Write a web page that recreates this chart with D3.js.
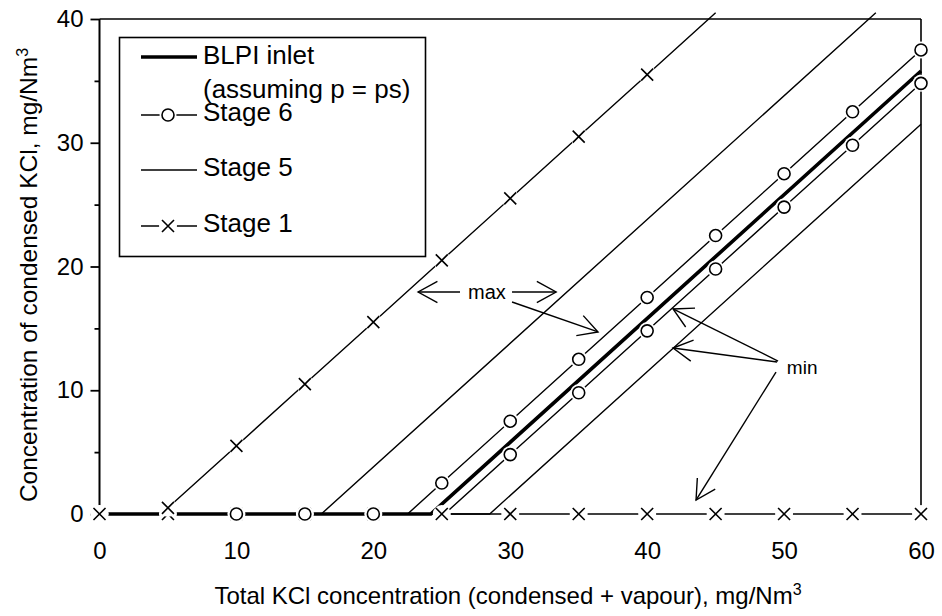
<!DOCTYPE html>
<html><head><meta charset="utf-8">
<script src="https://cdn.jsdelivr.net/npm/d3@7"></script>
<style>
html,body{margin:0;padding:0;background:#fff;}
text{font-family:"Liberation Sans",Arial,sans-serif;fill:#000;}
</style></head>
<body>
<svg id="chart" width="942" height="616"></svg>
<script>
// ---- data ----
const xTicks = [0, 10, 20, 30, 40, 50, 60];
const yTicks = [0, 10, 20, 30, 40];
const yMinorTicks = [5, 15, 25, 35];

const blpiX = [0, 24.2, 60];
const blpiY = [0, 0, 35.8];

const stage6MaxX = [10, 15, 20, 22.5, 25, 30, 35, 40, 45, 50, 55, 60];
const stage6MaxY = [0, 0, 0, 0, 2.5, 7.5, 12.5, 17.5, 22.5, 27.5, 32.5, 37.5];
const stage6MinX = [10, 15, 20, 25.2, 30, 35, 40, 45, 50, 55, 60];
const stage6MinY = [0, 0, 0, 0, 4.8, 9.8, 14.8, 19.8, 24.8, 29.8, 34.8];

const stage5MaxX = [0, 16.2, 56.7];
const stage5MaxY = [0, 0, 40.5];
const stage5MinX = [0, 28.5, 60];
const stage5MinY = [0, 0, 31.5];

const stage1MaxX = [0, 4.5, 5, 10, 15, 20, 25, 30, 35, 40, 45];
const stage1MaxY = [0, 0, 0.5, 5.5, 10.5, 15.5, 20.5, 25.5, 30.5, 35.5, 40.5];
const stage1MinX = [0, 5, 10, 15, 20, 25, 30, 35, 40, 45, 50, 55, 60];
const stage1MinY = [0, 0, 0, 0, 0, 0, 0, 0, 0, 0, 0, 0, 0];

const legendLabels = ["BLPI inlet", "(assuming p = ps)", "Stage 6", "Stage 5", "Stage 1"];

// annotations (data coordinates)
const maxLabel = {text: "max", x: 28.3, y: 17.94};
const maxArrows = [[26.33, 17.94, 23.27, 17.94], [30.13, 17.94, 33.35, 17.94], [30.13, 17.13, 36.41, 14.71]];
const minLabel = {text: "min", x: 51.32, y: 11.88};
const minArrows = [[49.56, 12.36, 41.89, 16.57], [49.49, 12.28, 41.89, 13.41], [49.41, 11.47, 43.57, 1.13]];

// ---- drawing ----
const svg = d3.select("#chart");
const x = d3.scaleLinear().domain([0, 60]).range([99.5, 921]);
const y = d3.scaleLinear().domain([0, 40]).range([514, 19]);

const zip = (xs, ys) => xs.map((v, i) => [v, ys[i]]);
const line = d3.line().x(d => x(d[0])).y(d => y(d[1]));

// frame
svg.append("line").attr("x1", x(0)).attr("x2", x(60)).attr("y1", y(40)).attr("y2", y(40))
  .attr("stroke", "#000").attr("stroke-width", 1.6);
svg.append("line").attr("x1", x(60)).attr("x2", x(60)).attr("y1", y(40)).attr("y2", y(0))
  .attr("stroke", "#000").attr("stroke-width", 1.6);

// y axis
const yAxis = d3.axisLeft(y).tickValues(yTicks).tickSize(9).tickPadding(7).tickFormat(d3.format("d"));
const gy = svg.append("g").attr("transform", `translate(${x(0)},0)`).call(yAxis);
gy.select(".domain").attr("stroke-width", 2).attr("d", `M0,${y(40)}V${y(0)}`);
gy.selectAll(".tick line").attr("stroke-width", 1.8);
gy.selectAll(".tick text").attr("font-size", 24).style("font-family", '"Liberation Sans",Arial,sans-serif');
const gyMinor = svg.append("g").attr("transform", `translate(${x(0)},0)`)
  .call(d3.axisLeft(y).tickValues(yMinorTicks).tickSize(5).tickFormat(""));
gyMinor.select(".domain").remove();
gyMinor.selectAll(".tick line").attr("stroke-width", 1.8);

// x axis labels (no line, no ticks)
const xAxis = d3.axisBottom(x).tickValues(xTicks).tickSize(0).tickPadding(28).tickFormat(d3.format("d"));
const gx = svg.append("g").attr("transform", `translate(0,${y(0)})`).call(xAxis);
gx.select(".domain").remove();
gx.selectAll(".tick text").attr("font-size", 24).style("font-family", '"Liberation Sans",Arial,sans-serif');

// axis titles
const xt = svg.append("text").attr("x", 508).attr("y", 604).attr("text-anchor", "middle").attr("font-size", 24);
xt.append("tspan").text("Total KCl concentration (condensed + vapour), mg/Nm");
xt.append("tspan").attr("dy", -9).attr("font-size", 16).text("3");
const yt = svg.append("text").attr("transform", "translate(37,275) rotate(-90)").attr("text-anchor", "middle").attr("font-size", 24.5);
yt.append("tspan").text("Concentration of condensed KCl, mg/Nm");
yt.append("tspan").attr("dy", -9).attr("font-size", 16).text("3");

// lines
const series = [
  {d: zip(stage5MaxX, stage5MaxY), w: 1.4},
  {d: zip(stage5MinX, stage5MinY), w: 1.4},
  {d: zip(stage1MinX, stage1MinY), w: 1.4},
  {d: zip(stage1MaxX, stage1MaxY), w: 1.4},
  {d: zip(stage6MinX, stage6MinY), w: 1.4},
  {d: zip(stage6MaxX, stage6MaxY), w: 1.4},
  {d: zip(blpiX, blpiY), w: 3.6},
];
series.forEach(s => {
  svg.append("path").attr("d", line(s.d)).attr("fill", "none").attr("stroke", "#000")
    .attr("stroke-width", s.w).attr("stroke-linejoin", "miter");
});

// markers
function drawX(g, cx, cy, bg) {
  if (bg) g.append("circle").attr("cx", cx).attr("cy", cy).attr("r", 9).attr("fill", "#fff");
  const h = 6;
  g.append("path").attr("d", `M${cx - h},${cy - h}L${cx + h},${cy + h}M${cx - h},${cy + h}L${cx + h},${cy - h}`)
    .attr("stroke", "#000").attr("stroke-width", 1.6).attr("fill", "none");
}
function drawO(g, cx, cy, bg) {
  if (bg) g.append("circle").attr("cx", cx).attr("cy", cy).attr("r", 8.5).attr("fill", "#fff");
  g.append("circle").attr("cx", cx).attr("cy", cy).attr("r", 6).attr("fill", "#fff")
    .attr("stroke", "#000").attr("stroke-width", 1.6);
}
const isMarked = d => d[0] % 5 === 0 && d[1] <= 40;
const mg = svg.append("g");
zip(stage1MinX, stage1MinY).filter(isMarked).forEach(d => drawX(mg, x(d[0]), y(d[1]), true));
zip(stage1MaxX, stage1MaxY).filter(isMarked).forEach(d => drawX(mg, x(d[0]), y(d[1]), true));
zip(stage6MinX, stage6MinY).filter(isMarked).forEach(d => drawO(mg, x(d[0]), y(d[1]), true));
zip(stage6MaxX, stage6MaxY).filter(isMarked).forEach(d => drawO(mg, x(d[0]), y(d[1]), true));

// legend
const lg = svg.append("g");
lg.append("rect").attr("x", 119.5).attr("y", 37.5).attr("width", 306).attr("height", 219)
  .attr("fill", "#fff").attr("stroke", "#000").attr("stroke-width", 1.6);
const lx1 = 141, lx2 = 197, lxt = 203;
lg.append("line").attr("x1", lx1).attr("x2", lx2).attr("y1", 57).attr("y2", 57).attr("stroke", "#000").attr("stroke-width", 3.6);
lg.append("line").attr("x1", lx1).attr("x2", lx2).attr("y1", 115).attr("y2", 115).attr("stroke", "#000").attr("stroke-width", 1.4);
drawO(lg, 168, 115, true);
lg.append("line").attr("x1", lx1).attr("x2", lx2).attr("y1", 170).attr("y2", 170).attr("stroke", "#000").attr("stroke-width", 1.4);
lg.append("line").attr("x1", lx1).attr("x2", lx2).attr("y1", 226).attr("y2", 226).attr("stroke", "#000").attr("stroke-width", 1.4);
drawX(lg, 168, 226, true);
const legendBaselines = [64, 98, 121, 176, 232];
legendLabels.forEach((t, i) => {
  lg.append("text").attr("x", lxt).attr("y", legendBaselines[i]).attr("font-size", 26).text(t);
});

// annotations
function arrow(g, a) {
  const [x1, y1, x2, y2] = [x(a[0]), y(a[1]), x(a[2]), y(a[3])];
  g.append("line").attr("x1", x1).attr("y1", y1).attr("x2", x2).attr("y2", y2)
    .attr("stroke", "#000").attr("stroke-width", 1.4);
  const ang = Math.atan2(y1 - y2, x1 - x2), L = 22, sp = 0.5;
  const p1 = [x2 + L * Math.cos(ang + sp), y2 + L * Math.sin(ang + sp)];
  const p2 = [x2 + L * Math.cos(ang - sp), y2 + L * Math.sin(ang - sp)];
  g.append("path").attr("d", `M${p1[0]},${p1[1]}L${x2},${y2}L${p2[0]},${p2[1]}`)
    .attr("fill", "none").attr("stroke", "#000").attr("stroke-width", 1.4);
}
const ag = svg.append("g");
maxArrows.forEach(a => arrow(ag, a));
minArrows.forEach(a => arrow(ag, a));
ag.append("text").attr("x", x(maxLabel.x)).attr("y", y(maxLabel.y)).attr("dy", "0.35em")
  .attr("text-anchor", "middle").attr("font-size", 20).text(maxLabel.text);
ag.append("text").attr("x", x(minLabel.x)).attr("y", y(minLabel.y)).attr("dy", "0.35em")
  .attr("text-anchor", "middle").attr("font-size", 19).text(minLabel.text);
</script>
</body></html>
